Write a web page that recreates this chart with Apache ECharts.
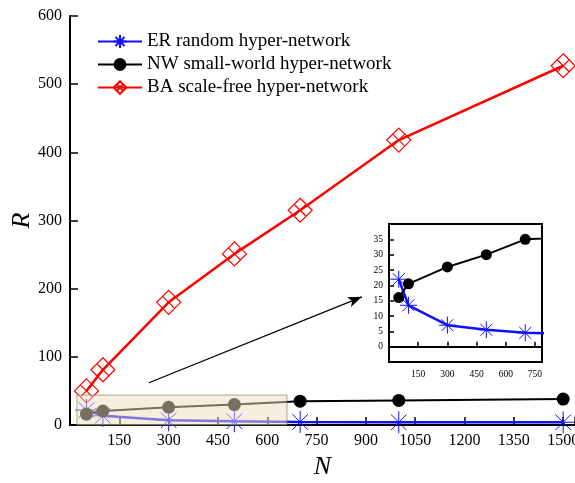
<!DOCTYPE html>
<html><head><meta charset="utf-8">
<script src="https://cdn.jsdelivr.net/npm/echarts@6/dist/echarts.min.js"></script>
<style>html,body{margin:0;padding:0;background:#fff}#c{width:575px;height:483px}</style>
</head><body><div id="c"></div>
<script>
const N = [50, 100, 300, 500, 700, 1000, 1500];
const erValues = [22, 13.5, 7, 5.5, 4.5, 4, 4];
const nwValues = [16, 20.5, 26, 30, 35, 36, 38];
const baValues = [50, 81, 180, 251, 315, 418, 527];
const seriesNames = ['ER random hyper-network', 'NW small-world hyper-network', 'BA scale-free hyper-network'];
const highlightBox = [21, 0, 660, 44];
const arrowFrom = [240, 62];
const arrowTo = [888, 188];

const pair = v => N.map((n, i) => [n, v[i]]);
const FONT = 'Liberation Serif';
const star = 'path://M15 0L15 30M0 15L30 15M4.4 4.4L25.6 25.6M4.4 25.6L25.6 4.4';
const lattice = 'path://M15 0L30 15L15 30L0 15Z M7.5 7.5L22.5 22.5M7.5 22.5L22.5 7.5';

function mk(gi, big) {
  const z = big ? 3 : 10;
  return [
    { name: seriesNames[0], type: 'line', xAxisIndex: gi, yAxisIndex: gi, data: pair(erValues),
      symbol: star, symbolSize: big ? 22 : 17, color: '#1010ff',
      lineStyle: { color: '#1010ff', width: 2.5 },
      itemStyle: { color: '#1010ff', borderColor: '#1010ff', borderWidth: 1 }, z: z },
    { name: seriesNames[1], type: 'line', xAxisIndex: gi, yAxisIndex: gi, data: pair(nwValues),
      symbol: 'circle', symbolSize: big ? 13 : 11, color: '#000',
      lineStyle: { color: '#000', width: 2 },
      itemStyle: { color: '#000', borderWidth: 0 }, z: z },
    { name: seriesNames[2], type: 'line', xAxisIndex: gi, yAxisIndex: gi, data: big ? pair(baValues) : [],
      symbol: lattice, symbolSize: 24, color: '#ff0000',
      lineStyle: { color: '#ff0000', width: 2.5 },
      itemStyle: { color: 'rgba(255,255,255,0)', borderColor: '#ff0000', borderWidth: 1.2 }, z: z }
  ];
}

const chart = echarts.init(document.getElementById('c'));
const series = mk(0, true).concat(mk(1, false));
series.push({
  type: 'custom', xAxisIndex: 0, yAxisIndex: 0, z: 6, silent: true,
  data: [highlightBox],
  renderItem: function (params, api) {
    const p0 = api.coord([api.value(0), api.value(1)]);
    const p1 = api.coord([api.value(2), api.value(3)]);
    return { type: 'rect', shape: { x: p0[0], y: p1[1], width: p1[0] - p0[0], height: p0[1] - p1[1] },
      style: { fill: 'rgba(238,222,190,0.5)', stroke: 'rgba(120,110,90,0.6)', lineWidth: 1 } };
  }
});
series.push({
  type: 'line', xAxisIndex: 0, yAxisIndex: 0, data: [], z: 6, silent: true,
  markLine: { silent: true, symbol: ['none', 'arrow'], symbolSize: [8, 14],
    label: { show: false }, lineStyle: { color: '#000', width: 1.3, type: 'solid' },
    data: [[{ coord: arrowFrom }, { coord: arrowTo }]] }
});

chart.setOption({
  animation: false,
  backgroundColor: '#fff',
  legend: {
    data: seriesNames, left: 97, top: 32, padding: 0, orient: 'vertical', itemWidth: 44, itemHeight: 16, itemGap: 4,
    textStyle: { fontFamily: FONT, fontSize: 19, color: '#000' }
  },
  grid: [
    { left: 70, top: 16, right: 0, bottom: 58, outerBoundsMode: 'none', containLabel: false },
    { left: 389, top: 224, width: 153, height: 138, outerBoundsMode: 'none', containLabel: false,
      show: true, borderColor: '#000', borderWidth: 2, backgroundColor: '#fff', z: 8 }
  ],
  xAxis: [
    { type: 'value', gridIndex: 0, min: 0, max: 1536, interval: 150,
      name: 'N', nameLocation: 'middle', nameGap: 29, nameMoveOverlap: false,
      nameTextStyle: { fontFamily: FONT, fontStyle: 'italic', fontSize: 26, color: '#000' },
      axisLine: { lineStyle: { color: '#000', width: 2 } },
      axisTick: { inside: true, length: 8, lineStyle: { color: '#000', width: 1.5 } },
      axisLabel: { fontFamily: FONT, fontSize: 16, color: '#000', margin: 8,
        formatter: v => (v > 0 && v % 150 === 0) ? String(v) : '' },
      splitLine: { show: false } },
    { type: 'value', gridIndex: 1, min: 0, max: 786, interval: 150, z: 11,
      axisLine: { lineStyle: { color: '#000', width: 2 } },
      axisTick: { inside: true, length: 5, lineStyle: { color: '#000', width: 1.5 } },
      axisLabel: { fontFamily: FONT, fontSize: 9.5, color: '#000', margin: 7,
        formatter: v => (v > 0 && v % 150 === 0 && v <= 750) ? String(v) : '' },
      splitLine: { show: false } },
  ],
  yAxis: [
    { type: 'value', gridIndex: 0, min: 0, max: 600, interval: 100,
      name: 'R', nameLocation: 'middle', nameGap: 35, nameRotate: 90, nameMoveOverlap: false,
      nameTextStyle: { fontFamily: FONT, fontStyle: 'italic', fontSize: 26, color: '#000' },
      axisLine: { lineStyle: { color: '#000', width: 2 } },
      axisTick: { inside: true, length: 8, lineStyle: { color: '#000', width: 1.5 } },
      axisLabel: { fontFamily: FONT, fontSize: 16, color: '#000', margin: 8 },
      splitLine: { show: false } },
    { type: 'value', gridIndex: 1, min: -5, max: 40, interval: 5, z: 11,
      axisLine: { lineStyle: { color: '#000', width: 2 } },
      axisTick: { inside: true, length: 5, lineStyle: { color: '#000', width: 1.5 } },
      axisLabel: { fontFamily: FONT, fontSize: 9.5, color: '#000', margin: 6,
        formatter: v => (v >= 0 && v <= 35) ? String(v) : '' },
      splitLine: { show: false } }
  ],
  series: series
});
</script></body></html>
